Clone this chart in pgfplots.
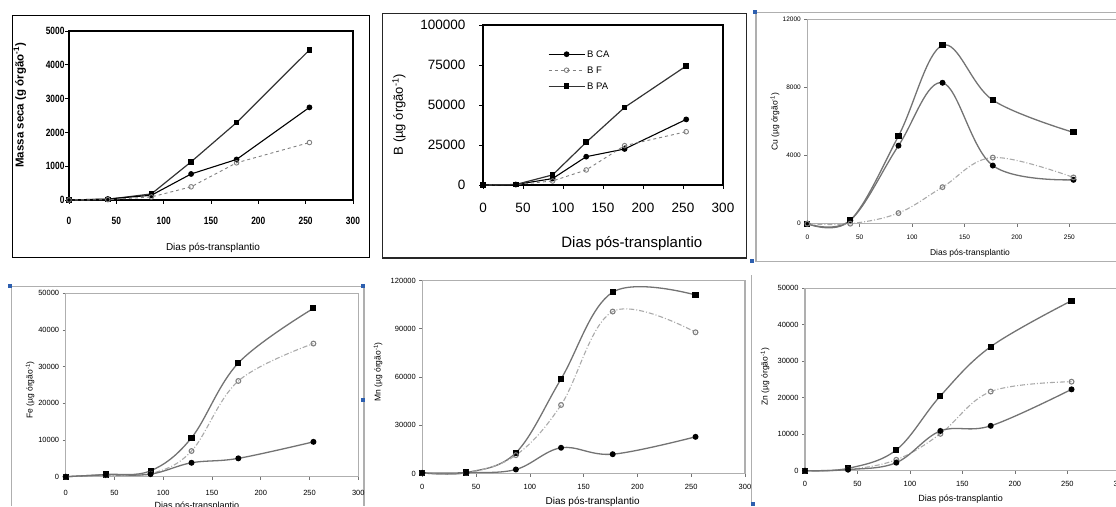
\documentclass[border=0pt]{standalone}
\usepackage{fontspec}
\setmainfont{Liberation Sans}
\newfontfamily\condfont[FakeStretch=0.8]{Liberation Sans}
\usepackage{pgfplots}
\pgfplotsset{compat=1.18}

\definecolor{linegray}{RGB}{115,115,115}
\definecolor{lightline}{RGB}{170,170,170}
\definecolor{framegray}{RGB}{175,175,175}
\definecolor{handle}{RGB}{45,95,175}

\pgfplotsset{
  panel/.style={
    scale only axis, anchor=south west,
    xmin=0, xmax=300, xtick={0,50,...,300}, ymin=0,
    scaled ticks=false,
    /pgf/number format/fixed,
    /pgf/number format/set thousands separator={},
    /pgf/number format/assume math mode=true,
    tick align=outside, tick pos=left,
    clip=false,
    xlabel style={anchor=center}, ylabel style={anchor=center},
  },
  oldpanel/.style={panel,
    axis line style={black, line width=1.2pt},
    tick style={black, line width=0.8pt}, major tick length=4pt},
  newpanel/.style={panel,
    axis line style={framegray, line width=1.3pt},
    tick style={linegray, line width=0.6pt}, major tick length=3pt},
  % series in the two framed charts (top left and top middle)
  caA/.style={black, line width=1.1pt, mark=*, mark size=2.3pt},
  fA/.style={gray, dashed, line width=0.9pt, mark=o, mark size=2.3pt, mark options={solid, fill=white}},
  paA/.style={black!80, line width=1.2pt, mark=square*, mark size=2.2pt, mark options={black}},
  % series in the four smoothed charts
  paB/.style={linegray, line width=1.3pt, smooth, tension=0.6, mark=square*, mark size=2.4pt, mark options={black}},
  caB/.style={linegray, line width=1.3pt, smooth, tension=0.6, mark=*, mark size=2.3pt, mark options={black}},
  fB/.style={lightline, line width=1.1pt, smooth, tension=0.6, dash pattern=on 5pt off 2pt on 1pt off 2pt,
    mark=o, mark size=2.4pt, mark options={solid, draw=gray, fill=white}},
}

\begin{document}
\begin{tikzpicture}[x=1pt,y=1pt]
\useasboundingbox (0,0) rectangle (1116,506);
\clip (0,0) rectangle (1116,506);

% frames and selection handles
\draw[black, line width=1.5pt] (12.7,248.3) rectangle (369.5,490.3);
\draw[black!85, line width=1.5pt] (382.3,248) rectangle (746.5,492.7);
\draw[framegray, line width=1.5pt] (1116,244.3) -- (756,244.3) -- (756,493.3) -- (1116,493.3);
\draw[framegray, line width=1.5pt] (11.5,0) -- (11.5,219.3) -- (364,219.3) -- (364,0);
\draw[framegray, line width=1.5pt] (751.5,0) -- (751.5,231);
\fill[handle] (753,491.5) rectangle (757,495.5);
\fill[handle] (750,242.5) rectangle (754,246.5);
\fill[handle] (8,217.5) rectangle (12,221.5);
\fill[handle] (361,217.5) rectangle (365,221.5);
\fill[handle] (361,104) rectangle (365,108);
\fill[handle] (751,0) rectangle (755,4);

% ---------- Massa seca ----------
\begin{axis}[oldpanel, at={(69pt,306pt)}, width=284pt, height=169pt,
    ymax=5000, ytick={0,1000,...,5000},
    tick label style={font=\condfont\bfseries\fontsize{10.5}{11}\selectfont},
    xticklabel style={yshift=-10pt}, yticklabel style={xshift=3pt},
    xlabel={Dias pós-transplantio}, xlabel style={font=\fontsize{10}{12}\selectfont, at={(axis description cs:0.507,-0.284)}},
    ylabel={Massa seca (g órgão\textsuperscript{-1})},
    ylabel style={font=\bfseries\fontsize{11.5}{13}\selectfont, at={(axis description cs:-0.173,0.56)}}]
  \addplot[paA] coordinates {(0,0) (41,20) (87,180) (129,1130) (177,2290) (254,4440)};
  \addplot[caA] coordinates {(0,0) (41,30) (87,140) (129,770) (177,1200) (254,2740)};
  \addplot[fA] coordinates {(0,0) (41,10) (87,90) (129,390) (177,1100) (254,1700)};
\end{axis}

% ---------- B ----------
\begin{axis}[oldpanel, at={(483pt,321pt)}, width=240pt, height=160pt,
    ymax=100000, ytick={0,25000,...,100000},
    tick label style={font=\fontsize{13.5}{14}\selectfont},
    xticklabel style={yshift=-11pt}, yticklabel style={xshift=-10pt},
    xlabel={Dias pós-transplantio}, xlabel style={font=\fontsize{15}{17}\selectfont, at={(axis description cs:0.62,-0.364)}},
    ylabel={B (µg órgão\textsuperscript{-1})},
    ylabel style={font=\fontsize{13}{15}\selectfont, at={(axis description cs:-0.35,0.44)}},
    legend style={at={(rel axis cs:0.27,0.85)}, anchor=north west, draw=none, fill=none,
      font=\fontsize{9.5}{10}\selectfont, inner sep=0pt, row sep=6pt,
      nodes={inner xsep=2pt, inner ysep=0pt, text height=8pt, text depth=2pt}},
    legend cell align=left,
    legend image code/.code={\draw[mark repeat=2,mark phase=2,#1] plot coordinates {(0pt,0pt) (18pt,0pt) (36pt,0pt)};}]
  \addplot[caA] coordinates {(0,0) (41,300) (87,4000) (129,17700) (177,22500) (254,41000)};
  \addlegendentry{B CA}
  \addplot[fA] coordinates {(0,0) (41,300) (87,2500) (129,9400) (177,24600) (254,33300)};
  \addlegendentry{B F}
  \addplot[paA] coordinates {(0,0) (41,300) (87,6300) (129,26700) (177,48500) (254,74400)};
  \addlegendentry{B PA}
\end{axis}

% ---------- Cu ----------
\begin{axis}[newpanel, at={(807.3pt,282.3pt)}, width=314.4pt, height=204pt,
    ymin=0, ymax=12000, ytick={0,4000,8000,12000},
    tick label style={font=\fontsize{6.5}{7}\selectfont},
    xticklabel style={yshift=-5pt},
    xlabel={Dias pós-transplantio}, xlabel style={font=\fontsize{8.5}{10}\selectfont, at={(axis description cs:0.5175,-0.144)}},
    ylabel={Cu (µg órgão\textsuperscript{-1})},
    ylabel style={font=\fontsize{8.5}{10}\selectfont, at={(axis description cs:-0.103,0.5)}}]
  \addplot[paB] coordinates {(0,0) (41,200) (87,5160) (129,10490) (177,7270) (254,5370)};
  \addplot[caB] coordinates {(0,0) (41,200) (87,4590) (129,8290) (177,3420) (254,2580)};
  \addplot[fB] coordinates {(0,0) (41,0) (87,625) (129,2150) (177,3890) (254,2720)};
\end{axis}

% ---------- Fe ----------
\begin{axis}[newpanel, at={(65.7pt,29.3pt)}, width=292.6pt, height=183.4pt,
    ymax=50000, ytick={0,10000,...,50000},
    tick label style={font=\fontsize{7.5}{8}\selectfont},
    xticklabel style={yshift=-7pt},
    xlabel={Dias pós-transplantio}, xlabel style={font=\fontsize{9}{10}\selectfont, at={(axis description cs:0.448,-0.16)}},
    ylabel={Fe (µg órgão\textsuperscript{-1})},
    ylabel style={font=\fontsize{8.5}{10}\selectfont, at={(axis description cs:-0.122,0.473)}}]
  \addplot[paB] coordinates {(0,0) (41,600) (87,1600) (129,10600) (177,31000) (254,45900)};
  \addplot[fB] coordinates {(0,0) (41,400) (87,800) (129,7000) (177,26100) (254,36300)};
  \addplot[caB] coordinates {(0,0) (41,500) (87,700) (129,3800) (177,5000) (254,9500)};
\end{axis}

% ---------- Mn ----------
\begin{axis}[newpanel, at={(422.3pt,32.5pt)}, width=322.7pt, height=193pt,
    ymax=120000, ytick={0,30000,...,120000},
    tick label style={font=\fontsize{7.5}{8}\selectfont},
    xticklabel style={yshift=-4pt},
    xlabel={Dias pós-transplantio}, xlabel style={font=\fontsize{10}{11}\selectfont, at={(axis description cs:0.528,-0.146)}},
    ylabel={Mn (µg órgão\textsuperscript{-1})},
    ylabel style={font=\fontsize{8.5}{10}\selectfont, at={(axis description cs:-0.137,0.526)}}]
  \addplot[paB] coordinates {(0,400) (41,600) (87,12900) (129,58800) (177,112700) (254,111000)};
  \addplot[fB] coordinates {(0,400) (41,400) (87,11400) (129,42600) (177,100700) (254,87800)};
  \addplot[caB] coordinates {(0,400) (41,500) (87,2500) (129,16000) (177,12000) (254,22800)};
\end{axis}

% ---------- Zn ----------
\begin{axis}[newpanel, at={(805pt,35.3pt)}, width=314.8pt, height=182.4pt,
    ymax=50000, ytick={0,10000,...,50000},
    tick label style={font=\fontsize{7.5}{8}\selectfont},
    xticklabel style={yshift=-4pt},
    xlabel={Dias pós-transplantio}, xlabel style={font=\fontsize{9}{10}\selectfont, at={(axis description cs:0.4946,-0.155)}},
    ylabel={Zn (µg órgão\textsuperscript{-1})},
    ylabel style={font=\fontsize{8.5}{10}\selectfont, at={(axis description cs:-0.127,0.515)}}]
  \addplot[paB] coordinates {(0,0) (41,640) (87,5700) (129,20500) (177,34000) (254,46600)};
  \addplot[fB] coordinates {(0,0) (41,300) (87,3000) (129,10100) (177,21700) (254,24400)};
  \addplot[caB] coordinates {(0,0) (41,300) (87,2200) (129,10900) (177,12300) (254,22300)};
\end{axis}
\end{tikzpicture}
\end{document}
